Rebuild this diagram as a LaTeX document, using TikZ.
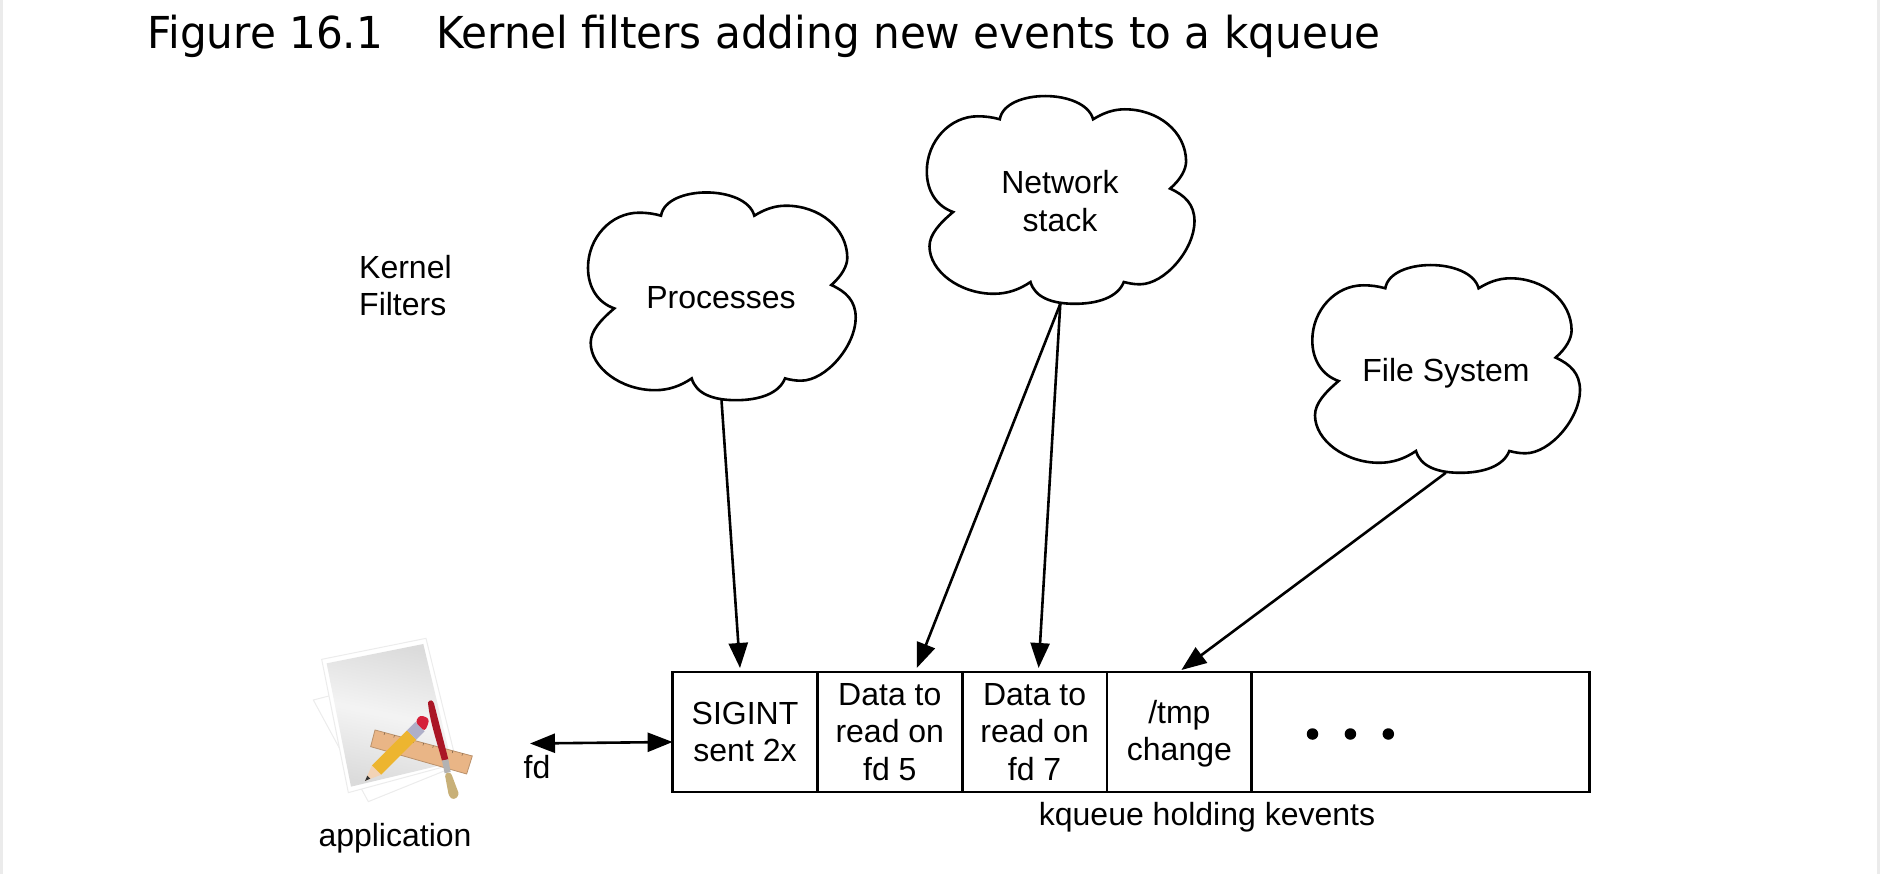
\documentclass[tikz,border=0pt]{standalone}
\usepackage{fontspec}
\setmainfont{Liberation Sans}
\newfontfamily\titlefont[FakeStretch=0.958]{DejaVu Sans}
\usepackage{tikz}
\usetikzlibrary{arrows.meta, calc, positioning}
\definecolor{stripgray}{RGB}{235, 235, 235}
\definecolor{rulerorange}{RGB}{233, 181, 134}
\definecolor{pencilyellow}{RGB}{237, 181, 47}
\definecolor{eraserred}{RGB}{213, 32, 58}
\definecolor{brushred}{RGB}{170, 22, 38}
\definecolor{brushwood}{RGB}{200, 176, 120}
\definecolor{ferrulegray}{RGB}{175, 175, 200}
\tikzset{
    textnode/.style = {draw=none, fill=none, rectangle, inner sep=0pt, align=center,
      font=\fontsize{32pt}{37.3pt}\selectfont},
    cellnode/.style = {draw, rectangle, line width=2.8pt, inner sep=0pt, outer sep=0pt, align=center,
      minimum width=144.8pt, minimum height=120pt, font=\fontsize{32pt}{37.3pt}\selectfont},
    dotnode/.style = {draw=none, fill=black, circle, minimum size=11.5pt, inner sep=0pt},
    connect/.style = {black, line width=2.6pt, -{Triangle[length=25pt, width=19pt]}},
    biconnect/.style = {black, line width=2.6pt, {Triangle[length=25pt, width=19pt]}-{Triangle[length=25pt, width=19pt]}},
    cloudshape/.pic = {
      \draw[line width=2.6pt, line join=miter] (0,0)
        .. controls (5,-31) and (85,-31) .. (93.3,0)
        .. controls (103,-6) and (113,-10) .. (125,-10)
        .. controls (158,-10) and (186,12) .. (186.3,42)
        .. controls (186.3,50) and (181,60) .. (170.3,69.3)
        .. controls (185,76) and (194.7,85) .. (194.7,102)
        .. controls (194.7,130) and (165,165) .. (140,165)
        .. controls (134,165) and (129,164) .. (124,162.7)
        .. controls (118,178) and (98,184.5) .. (75,184.5)
        .. controls (52,184.5) and (35,178) .. (30.7,162.7)
        .. controls (20,170) and (8,174.5) .. (-6,174.5)
        .. controls (-40,174.5) and (-70.3,152) .. (-70.3,127)
        .. controls (-70.3,115) and (-60,104) .. (-46.7,92.7)
        .. controls (-63,87) and (-73,72) .. (-73,52)
        .. controls (-73,22) and (-50,-3) .. (-22,-3)
        .. controls (-14,-3) and (-7,-2) .. cycle;
      \coordinate (-bottom) at (60.5,184.5);
    }
}

\begin{document}
\begin{tikzpicture}[x=1pt, y=-1pt]
    \useasboundingbox (0,0) rectangle (1880,874);
    \fill[stripgray] (0,0) rectangle (3,874);
    \fill[stripgray] (1877,0) rectangle (1880,874);

    \node [name = title, anchor=base west, inner sep=0pt, font=\titlefont\fontsize{44pt}{50pt}\selectfont] at (147,49)
        {Figure 16.1\hspace{53pt}Kernel filters adding new events to a kqueue};
    \node [name = filters, textnode, align=left, anchor=west] at (359,285.5) {Kernel\\Filters};

    \pic (cloudp) at (661,215.7) {cloudshape};
    \pic (cloudn) at (999.8,119.3) {cloudshape};
    \pic (cloudf) at (1385.3,288.3) {cloudshape};
    \node [name = processes, textnode] at (721,298) {Processes};
    \node [name = network, textnode] at (1060,201) {Network\\stack};
    \node [name = filesystem, textnode] at (1446,373) {File System};

    \node [name = sigint, cellnode] at (745,732) {SIGINT\\sent 2x};
    \node [name = fdfive, cellnode, right=0pt of sigint] {Data to\\read on\\fd 5};
    \node [name = fdseven, cellnode, right=0pt of fdfive] {Data to\\read on\\fd 7};
    \node [name = tmp, cellnode, right=0pt of fdseven, text depth=3pt] {/tmp\\change};
    \node [name = rest, cellnode, right=0pt of tmp, minimum width=338pt] {};
    \node [name = dota, dotnode] at (1312.5,734) {};
    \node [name = dotb, dotnode, right=26pt of dota] {};
    \node [name = dotc, dotnode, right=26pt of dotb] {};
    \node [name = kqueue, textnode] at (1207,817.5) {kqueue holding kevents};

    \draw[connect] (cloudp-bottom) -- ([xshift=-5pt, yshift=4pt]sigint.north);
    \draw[connect] (cloudn-bottom) -- ([xshift=27pt, yshift=4pt]fdfive.north);
    \draw[connect] (cloudn-bottom) -- ([xshift=4pt, yshift=4pt]fdseven.north);
    \draw[connect] (cloudf-bottom) -- ([xshift=2pt, yshift=2pt]tmp.north);

    \coordinate (fdend) at (530,743.5);
    \node [name = fd, textnode] at (537,767) {fd};
    \draw[biconnect] (fdend) -- ([yshift=-10pt]sigint.west);

    \begin{scope}[shift={(280,620)}, x=0.3333pt, y=-0.3333pt]
      \draw[gray!15, fill=white, line width=1pt] (100,240) -- (410,160) -- (500,450) -- (265,545) -- cycle;
      \draw[gray!15, fill=white, line width=1pt] (125,118) -- (438,55) -- (530,430) -- (205,518) -- cycle;
      \shade[top color=gray!28, bottom color=gray!28, middle color=gray!9, shading angle=-12]
        (140,130) -- (430,72) -- (515,428) -- (213,500) -- cycle;
      \draw[rulerorange!80!black, fill=rulerorange, line width=0.8pt] (285,330) -- (577,408) -- (560,462) -- (272,380) -- cycle;
      \foreach \tick in {0.1,0.2,...,0.95}
        \draw[rulerorange!50!black, line width=0.5pt] ($(285,330)!\tick!(577,408)$) -- ++(-2,7);
      \fill[rulerorange!60!white] (255,483) -- (276,436) -- (304,464) -- cycle;
      \fill[black!80] (255,483) -- (262,467) -- (271,476) -- cycle;
      \fill[pencilyellow] (276,436) -- (381,331) -- (409,359) -- (304,464) -- cycle;
      \fill[ferrulegray] (381,331) -- (406,306) -- (434,334) -- (409,359) -- cycle;
      \fill[eraserred, rounded corners=3pt] (406,306) -- (420,285) -- (447,295) -- (445,312) -- (434,334) -- cycle;
      \fill[brushred] (444,247) .. controls (450,238) and (458,240) .. (462,250) -- (505,418) -- (486,422)
        .. controls (472,370) and (448,300) .. cycle;
      \fill[gray!60] (486,422) -- (505,418) -- (512,456) -- (494,460) -- cycle;
      \fill[brushwood, rounded corners=3pt] (494,460) -- (512,456) -- (538,525) -- (522,540) -- (507,530) -- cycle;
    \end{scope}
    \node [name = application, textnode] at (395,838) {application};
\end{tikzpicture}
\end{document}
